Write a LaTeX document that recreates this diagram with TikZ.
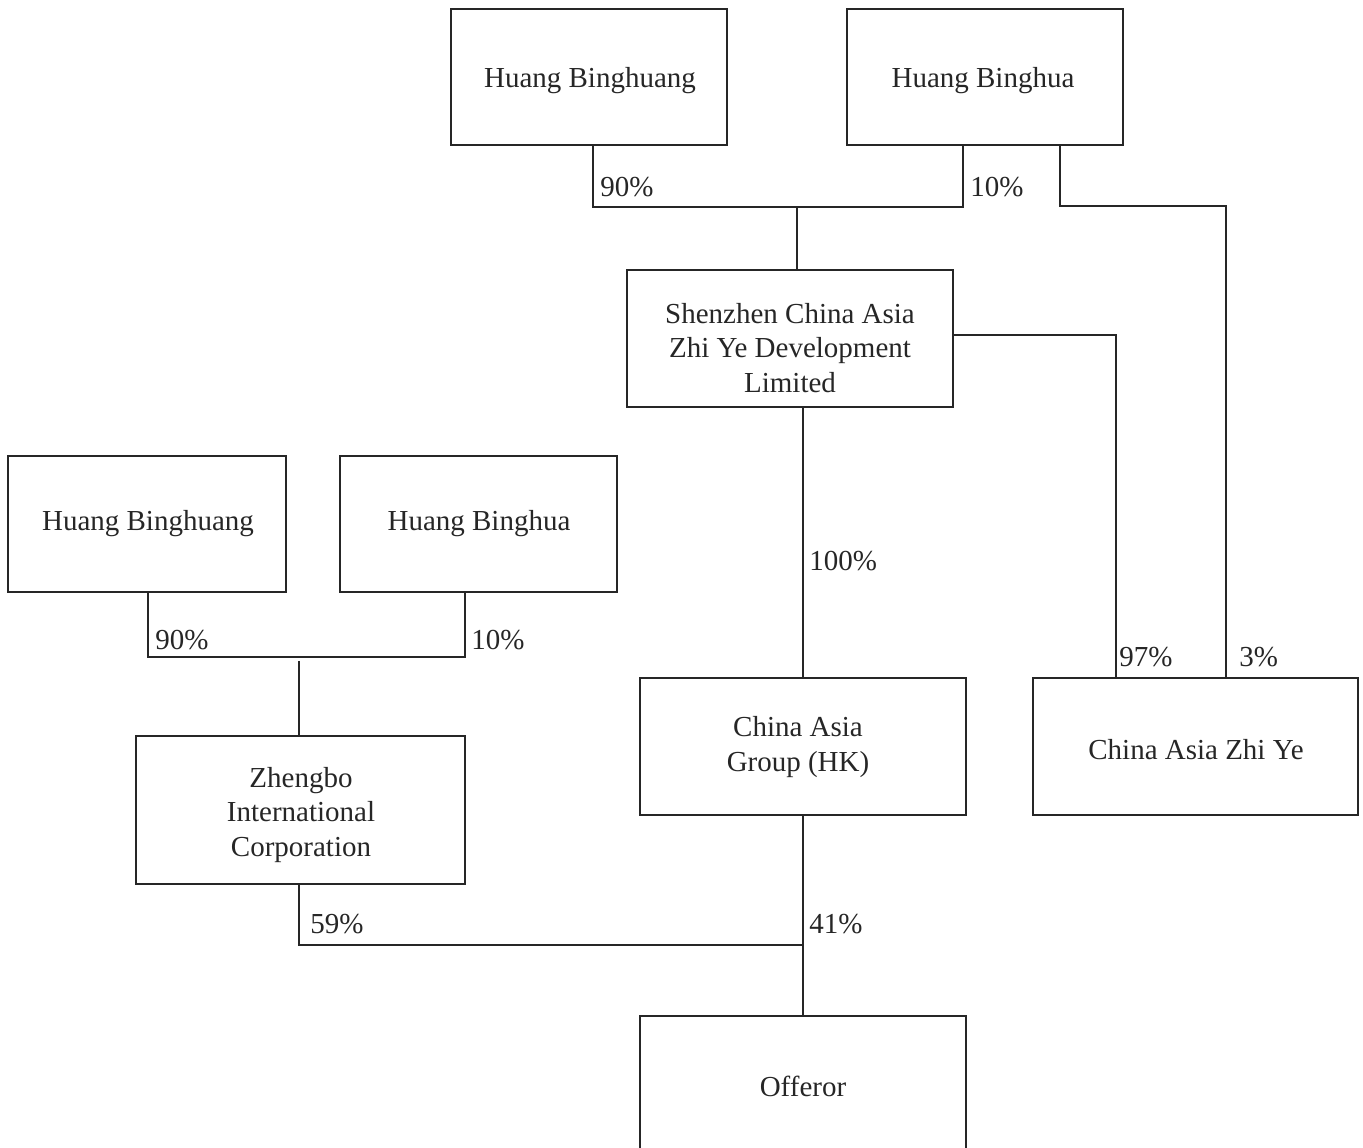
\documentclass[tikz,border=0pt]{standalone}
\usepackage{fontspec}
\setmainfont{Liberation Serif}
\begin{document}
\begin{tikzpicture}[x=0.02cm,y=-0.02cm,
  box/.style={draw=black!85, line width=1.2pt, rectangle, inner sep=0pt},
  txt/.style={inner sep=0pt, align=center, font=\fontsize{16.5}{19.8}\selectfont, text=black!85},
  pct/.style={inner sep=0pt, anchor=west, font=\fontsize{16.5}{19.8}\selectfont, text=black!85},
  link/.style={draw=black!85, line width=1.2pt}]
\useasboundingbox (0,0) rectangle (1363,1148);
% boxes
\node[box, minimum width=5.52cm, minimum height=2.72cm] (hb1) at (589,77) {};
\node[txt] (hb1text) at (590,81) {Huang Binghuang};
\node[box, minimum width=5.52cm, minimum height=2.72cm] (hbh1) at (985,77) {};
\node[txt] (hbh1text) at (983,81) {Huang Binghua};
\node[box, minimum width=6.52cm, minimum height=2.74cm] (sz) at (790,338.5) {};
\node[txt] (sztext) at (790,348) {Shenzhen China Asia\\Zhi Ye Development\\Limited};
\node[box, minimum width=5.56cm, minimum height=2.72cm] (hb2) at (147,524) {};
\node[txt] (hb2text) at (148,524) {Huang Binghuang};
\node[box, minimum width=5.54cm, minimum height=2.72cm] (hbh2) at (478.5,524) {};
\node[txt] (hbh2text) at (479,524) {Huang Binghua};
\node[box, minimum width=6.58cm, minimum height=2.96cm] (zb) at (300.5,810) {};
\node[txt] (zbtext) at (301,815) {Zhengbo\\International\\Corporation};
\node[box, minimum width=6.52cm, minimum height=2.74cm] (cag) at (803,746.5) {};
\node[txt] (cagtext) at (798,747) {China Asia\\Group (HK)};
\node[box, minimum width=6.50cm, minimum height=2.74cm] (cazy) at (1195.5,746.5) {};
\node[txt] (cazytext) at (1196,750) {China Asia Zhi Ye};
\node[box, minimum width=6.52cm, minimum height=2.76cm] (off) at (803,1085) {};
\node[txt] (offtext) at (803,1086) {Offeror};
% junctions
\coordinate (j1l) at (593,207);
\coordinate (j1r) at (963,207);
\coordinate (j1m) at (797,207);
\coordinate (j2) at (1226,206);
\coordinate (j3) at (1116,335);
\coordinate (j4l) at (148,657);
\coordinate (j4r) at (465,657);
\coordinate (j4m) at (299,661);
\coordinate (j5l) at (299,945);
\coordinate (j5r) at (803,945);
% connectors
\draw[link] (hb1.south -| j1l) -- (j1l) -- (j1r) -- (hbh1.south -| j1r);
\draw[link] (j1m) -- (sz.north -| j1m);
\draw[link] (hbh1.south -| 1060,0) |- (j2) -- (cazy.north -| j2);
\draw[link] (sz.east |- j3) -- (j3) -- (cazy.north -| j3);
\draw[link] (sz.south -| cag.north) -- (cag.north);
\draw[link] (hb2.south -| j4l) -- (j4l) -- (j4r) -- (hbh2.south -| j4r);
\draw[link] (j4m) -- (zb.north -| j4m);
\draw[link] (zb.south -| j5l) -- (j5l) -- (j5r);
\draw[link] (cag.south) -- (off.north);
% percentages
\node[pct] (p90a) at (600,187) {90\%};
\node[pct] (p10a) at (970,187) {10\%};
\node[pct] (p100) at (809,561) {100\%};
\node[pct] (p97) at (1119,657) {97\%};
\node[pct] (p3) at (1239,657) {3\%};
\node[pct] (p90b) at (155,640) {90\%};
\node[pct] (p10b) at (471,640) {10\%};
\node[pct] (p59) at (310,924) {59\%};
\node[pct] (p41) at (809,924) {41\%};
\end{tikzpicture}
\end{document}
